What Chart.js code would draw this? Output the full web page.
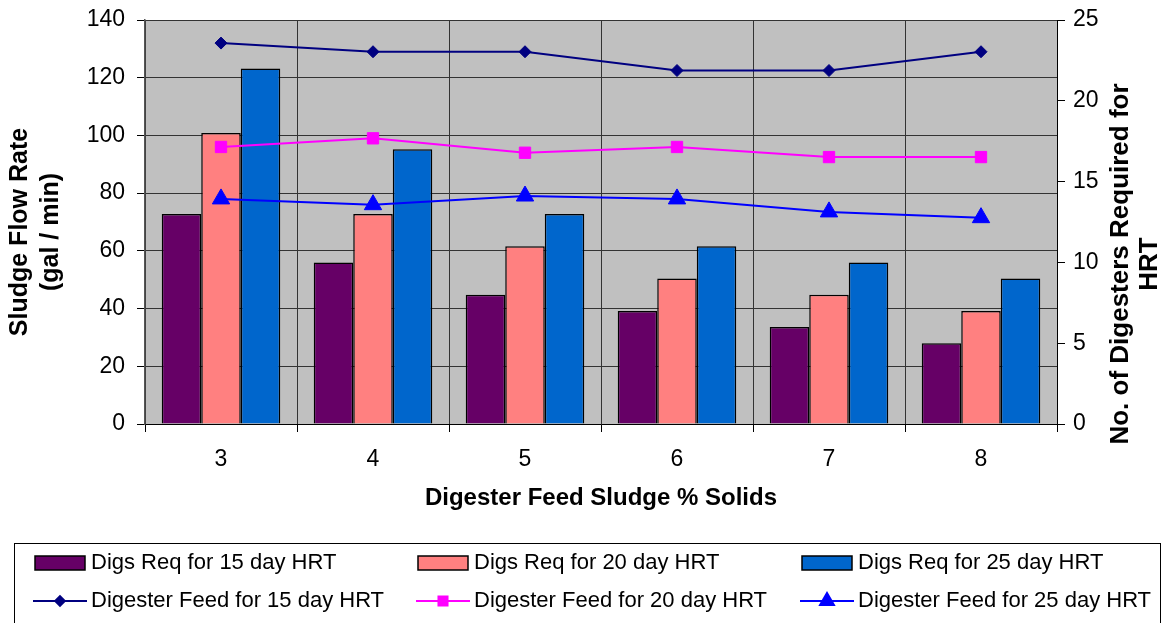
<!DOCTYPE html>
<html>
<head>
<meta charset="utf-8">
<script src="https://cdn.jsdelivr.net/npm/chart.js@4.4.0/dist/chart.umd.min.js"></script>
<style>
  html, body { margin: 0; padding: 0; background: #fff; }
  #wrap { width: 1166px; height: 623px; }
</style>
</head>
<body>
<div id="wrap"><canvas id="chart" width="1166" height="623"></canvas></div>
<script>
// Données
const solids = ["3", "4", "5", "6", "7", "8"];

// Nombre de digesteurs (axe droit)
const digs15 = [13, 10, 8, 7, 6, 5];
const digs20 = [18, 13, 11, 9, 8, 7];
const digs25 = [22, 17, 13, 11, 10, 9];

// Débit d'alimentation (axe gauche, gal/min)
const feed15 = [132, 129, 129, 122.5, 122.5, 129];
const feed20 = [96, 99, 94, 96, 92.5, 92.5];
const feed25 = [78, 76, 79, 78, 73.5, 71.5];

const leftMax = 140, leftStep = 20;
const rightMax = 25, rightStep = 5;

const leftTitle = ["Sludge Flow Rate", "(gal / min)"];
const rightTitle = ["No. of Digesters Required for", "HRT"];

const FONT = '"Liberation Sans", Arial, sans-serif';
Chart.defaults.font.family = FONT;
Chart.defaults.color = "#000";

// Fond gris de la zone de tracé
const plotBg = {
  id: "plotBg",
  beforeDraw(chart) {
    const { ctx, chartArea: a } = chart;
    ctx.save();
    ctx.fillStyle = "#C0C0C0";
    ctx.fillRect(a.left, a.top, a.right - a.left, a.bottom - a.top);
    ctx.restore();
  },
};

// texte vertical sur deux lignes (lu de bas en haut)
function vTitle(ctx, lines, x, y, gap, size) {
  ctx.save();
  ctx.translate(x, y);
  ctx.rotate(-Math.PI / 2);
  ctx.font = "bold " + size + "px " + FONT;
  ctx.fillStyle = "#000";
  ctx.textAlign = "center";
  ctx.textBaseline = "middle";
  lines.forEach((t, i) => ctx.fillText(t, 0, i * gap));
  ctx.restore();
}

// Titres des axes Y + légende encadrée
const extras = {
  id: "extras",
  afterDraw(chart) {
    const ctx = chart.ctx;
    vTitle(ctx, leftTitle, 20, 232, 31, 25);
    vTitle(ctx, rightTitle, chart.scales.y1.left + 64, 264, 29, 26);

    // Légende
    ctx.save();
    ctx.strokeStyle = "#000";
    ctx.lineWidth = 1;
    ctx.strokeRect(14.5, 543.5, 1146, 100);
    const colX = [35, 418, 802];
    const rowY = [563, 601];
    ctx.font = "22px " + FONT;
    ctx.textBaseline = "middle";
    ctx.textAlign = "left";
    chart.data.datasets.forEach((d, i) => {
      const x = colX[i % 3], y = rowY[Math.floor(i / 3)];
      if (d.type === "bar") {
        ctx.fillStyle = d.backgroundColor;
        ctx.fillRect(x, y - 7, 50, 14);
        ctx.lineWidth = 1.5;
        ctx.strokeStyle = "#000";
        ctx.strokeRect(x, y - 7, 50, 14);
      } else {
        ctx.strokeStyle = d.borderColor;
        ctx.lineWidth = 2;
        ctx.beginPath();
        ctx.moveTo(x - 2, y);
        ctx.lineTo(x + 52, y);
        ctx.stroke();
        ctx.fillStyle = d.pointBackgroundColor;
        ctx.strokeStyle = d.pointBorderColor;
        Chart.helpers.drawPoint(ctx, {
          pointStyle: d.pointStyle,
          radius: d.pointRadius * 0.8,
          rotation: 0,
          borderWidth: 1,
        }, x + 25, y);
      }
      ctx.fillStyle = "#000";
      ctx.fillText(d.label, x + 56, y);
    });
    ctx.restore();
  },
};

const barDs = (label, data, color) => ({
  type: "bar",
  label,
  data,
  yAxisID: "y1",
  backgroundColor: color,
  borderColor: "#000",
  borderWidth: 1.5,
  categoryPercentage: 0.78,
  barPercentage: 1.0,
  order: 2,
});

const lineDs = (label, data, color, style, radius) => ({
  type: "line",
  label,
  data,
  yAxisID: "y",
  borderColor: color,
  borderWidth: 2,
  pointStyle: style,
  pointRadius: radius,
  pointBackgroundColor: color,
  pointBorderColor: color,
  pointBorderWidth: 1,
  tension: 0,
  fill: false,
  order: 1,
});

new Chart(document.getElementById("chart").getContext("2d"), {
  data: {
    labels: solids,
    datasets: [
      barDs("Digs Req for 15 day HRT", digs15, "#660066"),
      barDs("Digs Req for 20 day HRT", digs20, "#FF8080"),
      barDs("Digs Req for 25 day HRT", digs25, "#0066CC"),
      lineDs("Digester Feed for 15 day HRT", feed15, "#000080", "rectRot", 6),
      lineDs("Digester Feed for 20 day HRT", feed20, "#FF00FF", "rect", 8),
      lineDs("Digester Feed for 25 day HRT", feed25, "#0000FF", "triangle", 10),
    ],
  },
  options: {
    responsive: false,
    animation: false,
    devicePixelRatio: 1,
    layout: { padding: { top: 20, left: 0, right: 0, bottom: 103 } },
    plugins: {
      legend: { display: false },
      tooltip: { enabled: false },
    },
    scales: {
      x: {
        type: "category",
        offset: true,
        grid: { offset: true, color: "#333", lineWidth: 1, tickLength: 8, tickColor: "#000" },
        border: { color: "#000", width: 1 },
        ticks: { font: { size: 23 }, color: "#000", padding: 14 },
        title: {
          display: true,
          text: "Digester Feed Sludge % Solids",
          font: { size: 24, weight: "bold" },
          color: "#000",
          padding: { top: 4, bottom: 7 },
        },
        afterFit: (s) => { s.height = 96; s.paddingLeft = 0; s.paddingRight = 0; },
      },
      y: {
        position: "left",
        min: 0,
        max: leftMax,
        grid: { color: "#333", lineWidth: 1, tickLength: 8, tickColor: "#000" },
        border: { color: "#555", width: 1.5 },
        ticks: { stepSize: leftStep, font: { size: 23 }, color: "#000", padding: 12 },
        afterFit: (s) => { s.width = 145; s.paddingTop = 0; s.paddingBottom = 0; },
      },
      y1: {
        position: "right",
        min: 0,
        max: rightMax,
        grid: { drawOnChartArea: false, tickLength: 8, tickColor: "#000" },
        border: { color: "#000", width: 1 },
        ticks: { stepSize: rightStep, font: { size: 23 }, color: "#000", padding: 8 },
        afterFit: (s) => { s.width = 109; s.paddingTop = 0; s.paddingBottom = 0; },
      },
    },
  },
  plugins: [plotBg, extras],
});
</script>
</body>
</html>
